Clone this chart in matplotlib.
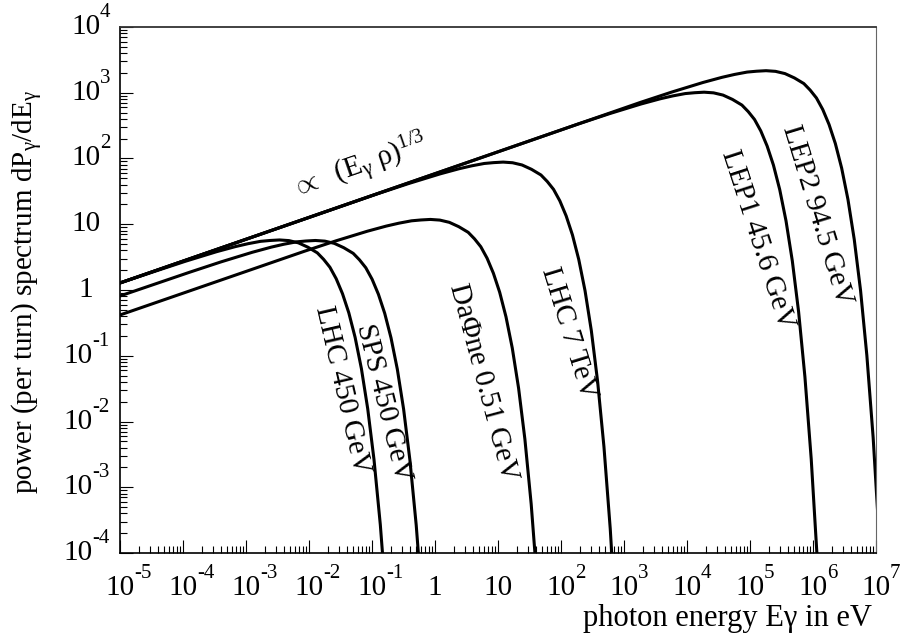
import matplotlib
matplotlib.use("Agg")
import numpy as np
import matplotlib.pyplot as plt
import matplotlib.transforms as mtransforms
from matplotlib.ticker import FixedLocator, LogLocator, NullFormatter

plt.rcParams["font.family"] = ["Liberation Serif", "DejaVu Serif"]
plt.rcParams["mathtext.fontset"] = "custom"
plt.rcParams["mathtext.rm"] = "Liberation Serif"
plt.rcParams["mathtext.it"] = "Liberation Serif:italic"

# curves, as log10(photon energy / eV) and log10(dP/dE)
lhc450_loge = [-5.0, -4.468, -3.968, -3.468, -3.168, -2.968, -2.768, -2.618, -2.468,
               -2.318, -2.168, -2.018, -1.868, -1.768, -1.668, -1.568, -1.468,
               -1.368, -1.268, -1.168, -1.068, -0.968, -0.868, -0.768]
lhc450_logp = [0.107, 0.277, 0.435, 0.582, 0.660, 0.704, 0.740, 0.753, 0.761,
               0.751, 0.717, 0.651, 0.565, 0.466, 0.346, 0.171, -0.057,
               -0.347, -0.720, -1.196, -1.805, -2.580, -3.568, -4.817]

sps_loge = [-5.0, -3.898, -3.398, -2.898, -2.598, -2.398, -2.198, -2.048, -1.898,
            -1.748, -1.598, -1.448, -1.298, -1.198, -1.098, -0.998, -0.898,
            -0.798, -0.698, -0.598, -0.498, -0.398, -0.298, -0.198]
sps_logp = [-0.091, 0.269, 0.427, 0.574, 0.652, 0.696, 0.732, 0.745, 0.753,
            0.743, 0.709, 0.643, 0.557, 0.458, 0.338, 0.163, -0.065,
            -0.355, -0.728, -1.204, -1.813, -2.588, -3.576, -4.825]

dafne_loge = [-5.0, -2.073, -1.573, -1.073, -0.773, -0.573, -0.373, -0.223, -0.073,
              0.077, 0.227, 0.377, 0.527, 0.627, 0.727, 0.827, 0.927,
              1.027, 1.127, 1.227, 1.327, 1.427, 1.527, 1.627]
dafne_logp = [-0.380, 0.589, 0.747, 0.894, 0.972, 1.016, 1.052, 1.065, 1.073,
              1.063, 1.029, 0.963, 0.877, 0.778, 0.658, 0.483, 0.255,
              -0.035, -0.408, -0.884, -1.493, -2.268, -3.256, -4.505]

lhc7_loge = [-5.0, -0.918, -0.418, 0.082, 0.382, 0.582, 0.782, 0.932, 1.082,
             1.232, 1.382, 1.532, 1.682, 1.782, 1.882, 1.982, 2.082,
             2.182, 2.282, 2.382, 2.482, 2.582, 2.682, 2.782, 2.882]
lhc7_logp = [0.107, 1.461, 1.619, 1.766, 1.844, 1.888, 1.924, 1.937, 1.945,
             1.935, 1.901, 1.835, 1.749, 1.650, 1.530, 1.355, 1.127,
             0.837, 0.464, -0.012, -0.621, -1.396, -2.384, -3.633, -5.225]

lep1_loge = [-5.0, 2.272, 2.772, 3.272, 3.572, 3.772, 3.972, 4.122, 4.272,
             4.422, 4.572, 4.722, 4.872, 4.972, 5.072, 5.172, 5.272,
             5.372, 5.472, 5.572, 5.672, 5.772, 5.872, 5.972, 6.072]
lep1_logp = [0.107, 2.524, 2.682, 2.829, 2.907, 2.951, 2.987, 3.000, 3.008,
             2.998, 2.964, 2.898, 2.812, 2.713, 2.593, 2.418, 2.190,
             1.900, 1.527, 1.051, 0.442, -0.333, -1.321, -2.570, -4.162]

lep2_loge = [-5.0, 3.255, 3.755, 4.255, 4.555, 4.755, 4.955, 5.105, 5.255,
             5.405, 5.555, 5.705, 5.855, 5.955, 6.055, 6.155, 6.255,
             6.355, 6.455, 6.555, 6.655, 6.755, 6.855, 6.955, 7.055]
lep2_logp = [0.107, 2.851, 3.009, 3.156, 3.234, 3.278, 3.314, 3.327, 3.335,
             3.325, 3.291, 3.225, 3.139, 3.040, 2.920, 2.745, 2.517,
             2.227, 1.854, 1.378, 0.769, -0.006, -0.994, -2.243, -3.835]

curves = [(lhc450_loge, lhc450_logp), (sps_loge, sps_logp),
          (dafne_loge, dafne_logp), (lhc7_loge, lhc7_logp),
          (lep1_loge, lep1_logp), (lep2_loge, lep2_logp)]

# curve labels: text, centre in axes fraction, rotation
labels = ["LHC 450 GeV", "SPS 450 GeV", "DaΦne 0.51 GeV", "LHC 7 TeV",
          "LEP1 45.6 GeV", "LEP2 94.5 GeV"]
label_pos = [(0.294, 0.310), (0.348, 0.285), (0.480, 0.325), (0.593, 0.418),
             (0.843, 0.595), (0.922, 0.643)]
label_rot = [-77, -76, -75, -73, -72, -73]

x_exps = list(range(-5, 8))
y_exps = list(range(-4, 5))

fig = plt.figure(figsize=(9.07, 6.42), dpi=100)
ax = fig.add_axes([0.1323, 0.1386, 0.8335, 0.8194])

for loge, logp in curves:
    ax.plot(10.0 ** np.array(loge), 10.0 ** np.array(logp), color="black",
            lw=2.2, solid_joinstyle="round")

ax.set_xscale("log")
ax.set_yscale("log")
ax.set_xlim(1e-5, 1e7)
ax.set_ylim(1e-4, 1e4)

for axis in (ax.xaxis, ax.yaxis):
    axis.set_major_formatter(NullFormatter())
    axis.set_minor_formatter(NullFormatter())
    axis.set_minor_locator(LogLocator(base=10, subs=range(2, 10), numticks=40))
ax.xaxis.set_major_locator(FixedLocator([10.0 ** k for k in x_exps]))
ax.yaxis.set_major_locator(FixedLocator([10.0 ** k for k in y_exps]))
ax.tick_params(which="major", direction="in", length=9.4, width=0.8,
               top=False, right=False)
ax.tick_params(which="minor", direction="in", length=5, width=0.8,
               top=False, right=False)

for side in ("left", "bottom"):
    ax.spines[side].set_linewidth(1.2)
ax.spines["top"].set_linewidth(1.3)
ax.spines["top"].set_color("#333333")
ax.spines["right"].set_linewidth(0.8)
ax.spines["right"].set_color("#666666")

fs = 21
fs_exp = 15


def put_label(x, y, base_tr, k, dx, dy):
    # ROOT style label: mantissa "10" (or "1", "10") plus raised exponent
    if k == 0:
        base, expo = "1", None
    elif k == 1:
        base, expo = "10", None
    else:
        base, expo = "10", str(k)
    tr = mtransforms.offset_copy(base_tr, fig=fig, x=dx, y=dy, units="dots")
    ax.text(x, y, base, ha="center", va="baseline", fontsize=fs,
            transform=tr, clip_on=False)
    if expo is not None:
        tr2 = mtransforms.offset_copy(base_tr, fig=fig, x=dx + 14, y=dy + 17,
                                      units="dots")
        ax.text(x, y, expo, ha="left", va="baseline", fontsize=fs_exp,
                transform=tr2, clip_on=False)


xtr = mtransforms.blended_transform_factory(ax.transData, ax.transAxes)
for k in x_exps:
    put_label(10.0 ** k, -0.0798, xtr, k, 0, 0)

ytr = mtransforms.blended_transform_factory(ax.transAxes, ax.transData)
for k in y_exps:
    dx = -34 if k >= 0 else -41.5
    put_label(0.0, 10.0 ** k, ytr, k, dx, -7)

ax.text(0.9947, -0.1388, "photon energy Eγ in eV", ha="right", va="baseline",
        fontsize=22, transform=ax.transAxes)
ax.text(-0.123, 0.497, "power (per turn) spectrum dP$_{\\mathrm{γ}}$/dE$_{\\mathrm{γ}}$",
        rotation=90, ha="center", va="center", fontsize=21,
        transform=ax.transAxes)

ax.text(0.3175, 0.732, "$\\propto$  (E$_{\\mathrm{γ}}$ ρ)$^{\\mathrm{1/3}}$",
        rotation=19, rotation_mode="anchor", ha="center", va="center",
        fontsize=fs, transform=ax.transAxes)

for txt, (fx, fy), rot in zip(labels, label_pos, label_rot):
    ax.text(fx, fy, txt, rotation=rot, rotation_mode="anchor", ha="center",
            va="center", fontsize=fs, transform=ax.transAxes)

fig.savefig("out.png", dpi=100)
